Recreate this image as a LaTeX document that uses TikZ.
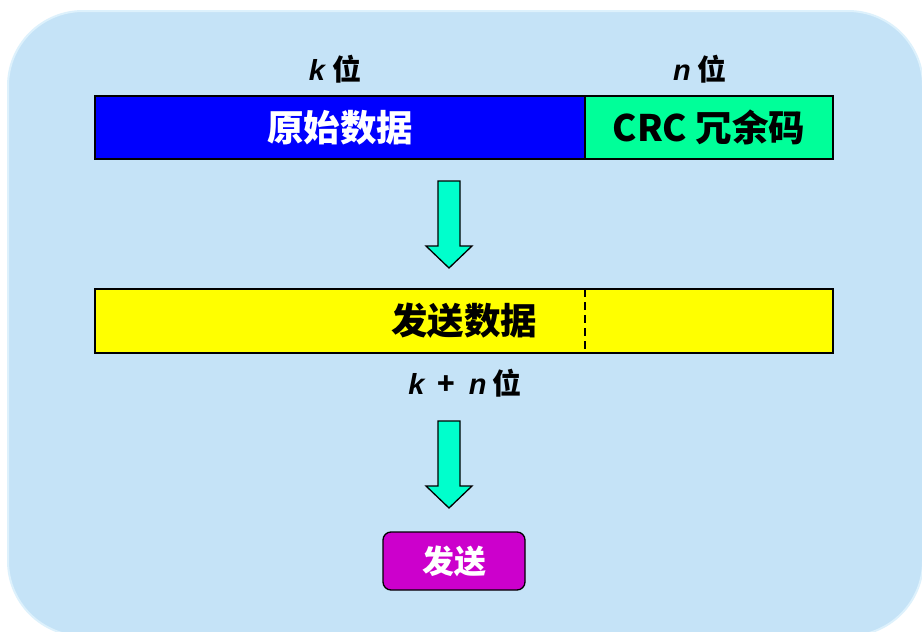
\documentclass[tikz,border=0pt]{standalone}
\usepackage{fontspec}
\setmainfont{Noto Sans CJK SC}
\newfontfamily\latinf{Liberation Sans}
\definecolor{bgblue}{HTML}{C5E3F7}
\definecolor{bgedge}{HTML}{DDF1FC}
\definecolor{origblue}{HTML}{0000FF}
\definecolor{crcgreen}{HTML}{00FF99}
\definecolor{sendyellow}{HTML}{FFFF00}
\definecolor{arrowaqua}{HTML}{00FFCC}
\definecolor{btnmag}{HTML}{CC00CC}
\tikzset{
  field/.style={draw=black, line width=1.5pt, anchor=north west, inner sep=0pt, outer sep=0pt},
  bigtext/.style={font=\bfseries\fontsize{36.5}{40}\selectfont},
  lbl/.style={font=\bfseries\fontsize{29}{32}\selectfont, inner sep=0pt},
  fatarrow/.style={draw=black, line width=1.3pt, fill=arrowaqua, line join=miter},
  btn/.style={draw=black, line width=1.3pt, fill=btnmag, rounded corners=8pt, text=white, font=\bfseries\fontsize{32}{35}\selectfont, minimum width=142pt, minimum height=58pt, inner sep=0pt}
}
\begin{document}
\begin{tikzpicture}[x=1pt,y=-1pt]
\useasboundingbox (0,0) rectangle (922,632);
\fill[white] (0,0) rectangle (922,632);
\begin{scope}
\clip (0,0) rectangle (922,632);
\draw[fill=bgblue, draw=bgedge, line width=2pt, rounded corners=75pt] (8,11) rectangle (923,636);
\end{scope}
% labels
\node[lbl] (klbl) at (335,69) {{\latinf\bfseries\itshape k}\hspace{7pt}位};
\node[lbl] (nlbl) at (700,69) {{\latinf\bfseries\itshape n}\hspace{7pt}位};
% top fields
\node[field, fill=origblue, text=white, bigtext, minimum width=490pt, minimum height=63pt] (orig) at (95,96) {原始数据};
\node[field, fill=crcgreen, text=black, bigtext, minimum width=248pt, minimum height=63pt] (crc) at (585,96) {CRC 冗余码};
% arrow 1
\draw[fatarrow] (438,181) -- (460,181) -- (460,246) -- (472,246) -- (449,268) -- (426,246) -- (438,246) -- cycle;
% send data
\node[field, fill=sendyellow, text=black, bigtext, minimum width=738pt, minimum height=64pt] (send) at (95,289) {发送数据};
\coordinate (dtop) at (585,289);
\coordinate (dbot) at (585,353);
\draw[black, line width=1.3pt, dash pattern=on 8pt off 5pt] (dtop) -- (dbot);
\node[lbl] (knlbl) at (465,383) {{\latinf\bfseries\itshape k}\ \ +\ \ {\latinf\bfseries\itshape n}\hspace{6pt}位};
% arrow 2
\draw[fatarrow] (438,421) -- (460,421) -- (460,486) -- (472,486) -- (449,508) -- (426,486) -- (438,486) -- cycle;
% button
\node[btn] (sendbtn) at (454,561) {发送};
\end{tikzpicture}
\end{document}
